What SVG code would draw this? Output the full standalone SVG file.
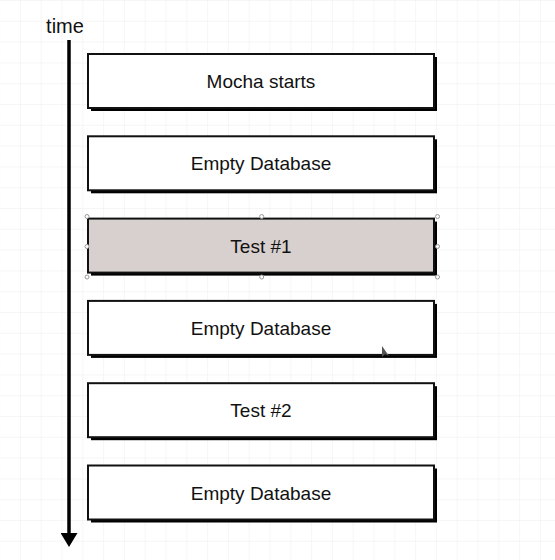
<svg xmlns="http://www.w3.org/2000/svg" width="555" height="560" viewBox="0 0 555 560">
  <defs>
    <pattern id="gridx" x="40.7" y="0" width="20.8" height="20.8" patternUnits="userSpaceOnUse">
      <path d="M 0 0 L 0 20.8 M 0 0 L 20.8 0" fill="none" stroke="#eeeeee" stroke-width="1"/>
    </pattern>
    <marker id="arrow" viewBox="0 0 14 17" refX="2" refY="8.5" markerWidth="14" markerHeight="17" markerUnits="userSpaceOnUse" orient="auto">
      <path d="M0 0 L14 8.5 L0 17 Z" fill="#000"/>
    </marker>
    <style>
      .shadow { fill: #000; }
      .box { fill: #fff; stroke: #111; stroke-width: 2; }
      .sel { fill: #d8d0cf; }
      .lbl { font-family: "Liberation Sans", Arial, sans-serif; font-size: 19px; fill: #111; text-anchor: middle; }
      .handle { fill: #fff; stroke: #999; stroke-width: 1; }
    </style>
  </defs>
  <rect width="555" height="560" fill="#fff"/>
  <rect width="555" height="560" fill="url(#gridx)"/>

  <g id="connectors">
    <line x1="69" y1="40" x2="69" y2="535" stroke="#000" stroke-width="3.5" marker-end="url(#arrow)"/>
    <text x="65" y="33" style="font-family: 'Liberation Sans', Arial, sans-serif; font-size: 20px; fill: #111; text-anchor: middle;">time</text>
  </g>

  <g id="node-mocha-starts">
    <rect class="shadow" x="91" y="57" width="346" height="54"/>
    <rect class="box" x="88" y="54" width="346" height="54"/>
    <text class="lbl" x="261" y="88">Mocha starts</text>
  </g>

  <g id="node-empty-db-1">
    <rect class="shadow" x="91" y="139.3" width="346" height="54"/>
    <rect class="box" x="88" y="136.3" width="346" height="54"/>
    <text class="lbl" x="261" y="170.3">Empty Database</text>
  </g>

  <g id="node-test-1">
    <rect class="shadow" x="91" y="221.6" width="346" height="54"/>
    <rect class="box sel" x="88" y="218.6" width="346" height="54"/>
    <text class="lbl" x="261" y="252.6">Test #1</text>
    <circle class="handle" cx="87" cy="216.5" r="2"/>
    <circle class="handle" cx="261.7" cy="216.5" r="2"/>
    <circle class="handle" cx="437.5" cy="216.5" r="2"/>
    <circle class="handle" cx="87" cy="246.5" r="2"/>
    <circle class="handle" cx="437.5" cy="246.5" r="2"/>
    <circle class="handle" cx="87" cy="277" r="2"/>
    <circle class="handle" cx="261.7" cy="277" r="2"/>
    <circle class="handle" cx="437.5" cy="277" r="2"/>
  </g>

  <g id="node-empty-db-2">
    <rect class="shadow" x="91" y="303.9" width="346" height="54"/>
    <rect class="box" x="88" y="300.9" width="346" height="54"/>
    <text class="lbl" x="261" y="334.9">Empty Database</text>
  </g>

  <g id="node-test-2">
    <rect class="shadow" x="91" y="386.2" width="346" height="54"/>
    <rect class="box" x="88" y="383.2" width="346" height="54"/>
    <text class="lbl" x="261" y="417.2">Test #2</text>
  </g>

  <g id="node-empty-db-3">
    <rect class="shadow" x="91" y="468.5" width="346" height="54"/>
    <rect class="box" x="88" y="465.5" width="346" height="54"/>
    <text class="lbl" x="261" y="499.5">Empty Database</text>
  </g>

  <path d="M382 346 L382 357 L385 354 L389 356 Z" fill="#555"/>
</svg>
